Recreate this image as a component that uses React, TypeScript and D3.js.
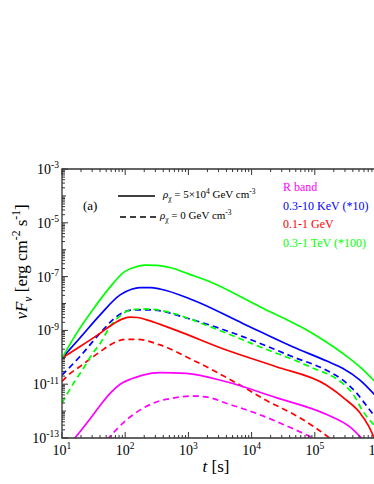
import React, { useEffect, useRef } from "react";
import * as d3 from "d3";

// points: [log10 t (s), log10 νFν (erg cm^-2 s^-1)]
const rBandSolid: [number, number][] = [[1.18, -13.07], [1.44, -12.3], [1.6, -11.8], [1.76, -11.34], [1.92, -11.0], [2.1, -10.8], [2.28, -10.66], [2.55, -10.57], [2.97, -10.6], [3.6, -10.91], [4.39, -11.5], [5.18, -12.12], [5.55, -12.58], [5.76, -13.05]];
const rBandDashed: [number, number][] = [[1.71, -13.07], [2.02, -12.33], [2.44, -11.71], [2.8, -11.5], [3.07, -11.44], [3.3, -11.48], [3.6, -11.71], [4.07, -12.08], [4.65, -12.65], [5.02, -13.05]];
const xraySolid: [number, number][] = [[1.0, -10.03], [1.28, -9.29], [1.6, -8.43], [1.92, -7.68], [2.1, -7.47], [2.23, -7.41], [2.4, -7.41], [2.55, -7.46], [3.07, -7.87], [3.86, -8.74], [4.65, -9.61], [5.2, -10.15], [5.44, -10.41], [5.71, -10.84], [5.95, -11.4]];
const xrayDashed: [number, number][] = [[1.0, -10.66], [1.28, -9.98], [1.6, -9.11], [1.86, -8.49], [2.0, -8.3], [2.13, -8.24], [2.39, -8.24], [3.07, -8.61], [3.86, -9.23], [4.65, -9.98], [5.2, -10.5], [5.44, -10.84], [5.65, -11.3], [5.85, -11.9], [5.95, -12.2]];
const gevSolid: [number, number][] = [[1.0, -10.03], [1.28, -9.61], [1.6, -9.11], [1.81, -8.76], [1.95, -8.58], [2.07, -8.51], [2.2, -8.52], [2.34, -8.61], [2.81, -9.0], [3.6, -9.73], [4.39, -10.35], [5.18, -11.03], [5.5, -11.59], [5.71, -12.05], [5.85, -12.55], [5.95, -13.05]];
const gevDashed: [number, number][] = [[1.0, -10.9], [1.13, -10.6], [1.28, -10.35], [1.45, -10.05], [1.6, -9.8], [1.76, -9.54], [2.02, -9.33], [2.18, -9.33], [2.55, -9.54], [3.07, -10.1], [3.86, -11.09], [4.23, -11.6], [4.65, -12.1], [5.0, -12.6], [5.26, -13.05]];
const tevSolid: [number, number][] = [[1.0, -10.03], [1.23, -9.11], [1.49, -8.22], [1.75, -7.42], [1.97, -6.85], [2.15, -6.65], [2.31, -6.57], [2.5, -6.58], [2.71, -6.66], [3.0, -6.9], [3.34, -7.19], [4.13, -8.12], [4.92, -9.05], [5.44, -9.85], [5.71, -10.35], [5.95, -10.9]];
const tevDashed: [number, number][] = [[1.0, -11.7], [1.2, -10.9], [1.34, -10.41], [1.49, -9.84], [1.6, -9.5], [1.76, -8.86], [1.9, -8.5], [2.02, -8.3], [2.15, -8.22], [2.28, -8.2], [2.45, -8.22], [2.65, -8.3], [3.34, -8.86], [4.13, -9.61], [4.92, -10.35], [5.44, -10.97], [5.6, -11.35], [5.76, -12.0], [5.95, -12.55]];

const bandNames = ["R band", "0.3-10 KeV (*10)", "0.1-1 GeV", "0.3-1 TeV (*100)"];
const bandColors = ["#ff00ff", "#0000ff", "#ff0000", "#00ff00"];
const solidSeries = [rBandSolid, xraySolid, gevSolid, tevSolid];
const dashedSeries = [rBandDashed, xrayDashed, gevDashed, tevDashed];

const xDecades = [1, 2, 3, 4, 5, 6];
const yDecades = [-3, -5, -7, -9, -11, -13];

const W = 374, H = 484;
const L = 62, R = 378, T = 169, B = 438;
const FONT = "'Liberation Serif', 'Times New Roman', serif";

type Part = { s: string; sup?: boolean; sub?: boolean; it?: boolean };

// write text with super/subscripts as tspans
const rich = (text: any, parts: Part[], size: number) => {
  let off = 0;
  parts.forEach((p) => {
    const target = p.sup ? -0.4 * size : p.sub ? 0.3 * size : 0;
    const ts = text.append("tspan")
      .attr("dy", target - off)
      .attr("font-size", p.sup || p.sub ? size * 0.68 : size)
      .text(p.s);
    if (p.it) ts.attr("font-style", "italic");
    off = target;
  });
};

const Chart = () => {
  const ref = useRef(null);

  useEffect(() => {
    const svg = d3.select(ref.current);
    svg.selectAll("*").remove();

    const x = d3.scaleLog().domain([1e1, 1e6]).range([L, R]);
    const y = d3.scaleLog().domain([1e-13, 1e-3]).range([B, T]);

    svg.append("defs").append("clipPath").attr("id", "plot")
      .append("rect").attr("x", L).attr("y", T).attr("width", R - L).attr("height", B - T);

    const line = d3.line<[number, number]>()
      .x((d) => x(Math.pow(10, d[0])))
      .y((d) => y(Math.pow(10, d[1])))
      .curve(d3.curveMonotoneX);

    const g = svg.append("g").attr("clip-path", "url(#plot)");
    dashedSeries.forEach((d, i) => {
      g.append("path").attr("d", line(d)).attr("fill", "none")
        .attr("stroke", bandColors[i]).attr("stroke-width", 1.7)
        .attr("stroke-dasharray", "6,4");
    });
    solidSeries.forEach((d, i) => {
      g.append("path").attr("d", line(d)).attr("fill", "none")
        .attr("stroke", bandColors[i]).attr("stroke-width", 1.7);
    });

    // frame
    const ax = svg.append("g").attr("stroke", "#333").attr("fill", "none");
    ax.append("path").attr("d", `M${R},${T}H${L}V${B}H${R}V${T}`).attr("stroke-width", 1.3);

    // x ticks (bottom and top, inward)
    const xMinor: number[] = [];
    for (let e = 1; e < 6; e++) for (let k = 2; k < 10; k++) xMinor.push(k * Math.pow(10, e));
    xMinor.forEach((t) => {
      ax.append("line").attr("x1", x(t)).attr("x2", x(t)).attr("y1", B).attr("y2", B - 3);
      ax.append("line").attr("x1", x(t)).attr("x2", x(t)).attr("y1", T).attr("y2", T + 3);
    });
    xDecades.forEach((e) => {
      const t = Math.pow(10, e);
      ax.append("line").attr("x1", x(t)).attr("x2", x(t)).attr("y1", B).attr("y2", B - 6);
      ax.append("line").attr("x1", x(t)).attr("x2", x(t)).attr("y1", T).attr("y2", T + 6);
    });

    // y ticks
    const yMinor: number[] = [];
    for (let e = -13; e < -3; e++) for (let k = 2; k < 10; k++) yMinor.push(k * Math.pow(10, e));
    yMinor.forEach((v) => {
      ax.append("line").attr("x1", L).attr("x2", L + 3).attr("y1", y(v)).attr("y2", y(v));
    });
    for (let e = -13; e <= -3; e++) {
      const v = Math.pow(10, e);
      ax.append("line").attr("x1", L).attr("x2", L + (e % 2 ? 6 : 4)).attr("y1", y(v)).attr("y2", y(v));
    }

    const txt = svg.append("g").attr("font-family", FONT).attr("fill", "#000");

    xDecades.forEach((e) => {
      const t = txt.append("text").attr("x", x(Math.pow(10, e))).attr("y", 455)
        .attr("text-anchor", "middle");
      rich(t, [{ s: "10" }, { s: String(e), sup: true }], 14);
    });
    yDecades.forEach((e) => {
      const t = txt.append("text").attr("x", 59).attr("y", y(Math.pow(10, e)) + 5)
        .attr("text-anchor", "end");
      rich(t, [{ s: "10" }, { s: String(e), sup: true }], 14);
    });

    // axis titles
    const xt = txt.append("text").attr("x", 216).attr("y", 472).attr("text-anchor", "middle");
    rich(xt, [{ s: "t", it: true }, { s: " [s]" }], 17);
    const yt = txt.append("text").attr("transform", "translate(27,262) rotate(-90)")
      .attr("text-anchor", "middle");
    rich(yt, [{ s: "νF", it: true }, { s: "ν", sub: true, it: true }, { s: " [erg cm" },
      { s: "-2", sup: true }, { s: " s" }, { s: "-1", sup: true }, { s: "]" }], 17);

    // legend: line styles
    txt.append("text").attr("x", 83).attr("y", 210).attr("font-size", 13).text("(a)");
    svg.append("line").attr("x1", 118).attr("x2", 155).attr("y1", 196).attr("y2", 196)
      .attr("stroke", "#000").attr("stroke-width", 1.6);
    svg.append("line").attr("x1", 120).attr("x2", 157).attr("y1", 217).attr("y2", 217)
      .attr("stroke", "#000").attr("stroke-width", 1.6).attr("stroke-dasharray", "6,4");
    const l1 = txt.append("text").attr("x", 163).attr("y", 198);
    rich(l1, [{ s: "ρ", it: true }, { s: "χ", sub: true }, { s: " = 5×10" }, { s: "4", sup: true },
      { s: " GeV cm" }, { s: "-3", sup: true }], 11);
    const l2 = txt.append("text").attr("x", 160).attr("y", 219);
    rich(l2, [{ s: "ρ", it: true }, { s: "χ", sub: true }, { s: " = 0 GeV cm" }, { s: "-3", sup: true }], 11);

    // legend: bands
    bandNames.forEach((n, i) => {
      txt.append("text").attr("x", 283).attr("y", 191 + i * 18.5).attr("font-size", 12)
        .attr("fill", bandColors[i]).text(n);
    });
  }, []);

  return <svg ref={ref} width={W} height={H} style={{ position: "absolute", left: 0, top: 0, background: "#fff" }} />;
};

export default function App() {
  return <Chart />;
}
